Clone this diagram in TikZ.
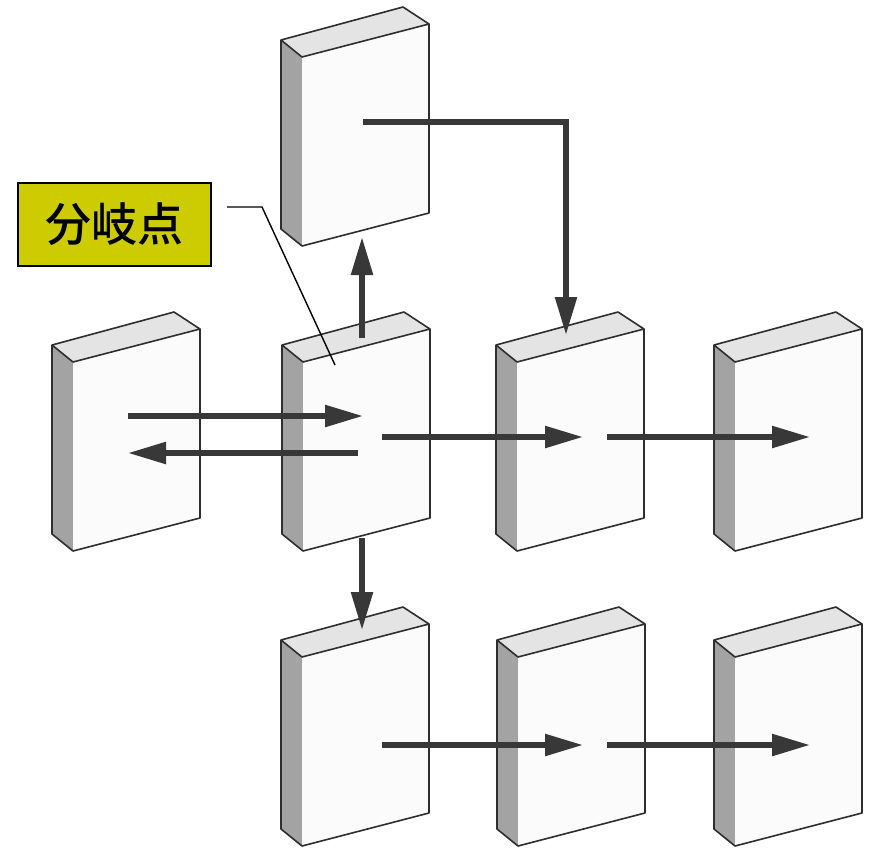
\documentclass[tikz,border=0pt]{standalone}
\usepackage{fontspec}
\newfontfamily\cjk{Noto Sans CJK JP}[BoldFont={Noto Sans CJK JP Medium}]
\usetikzlibrary{arrows.meta}

\definecolor{ink}{HTML}{383838}
\definecolor{edge}{HTML}{2E2E2E}
\definecolor{spinegray}{HTML}{A3A3A3}
\definecolor{topgray}{HTML}{E4E4E4}
\definecolor{facewhite}{HTML}{FBFBFB}
\definecolor{tagyellow}{HTML}{CCCC00}

\tikzset{
  % a standing volume: front face with its upper-left corner at the origin
  pics/volume/.style={code={
    \fill[spinegray] (0,0) -- (-21,-17) -- (-21,172) -- (0,189) -- cycle;
    \fill[topgray] (0,0) -- (-21,-17) -- (101,-50) -- (127,-33) -- cycle;
    \fill[facewhite] (0,0) -- (127,-33) -- (127,156) -- (0,189) -- cycle;
    \draw[bookedge] (0,189) -- (-21,172) -- (-21,-17) -- (101,-50) -- (127,-33)
      -- (127,156) -- (0,189) -- cycle (0,0) -- (127,-33) (0,0) -- (-21,-17);
  }},
  bookedge/.style={draw=edge, line width=1.6pt, line join=round},
  flow/.style={draw=ink, line width=5.5pt,
    -{Triangle[length=38pt,width=21pt]}},
  leader/.style={draw=black, line width=1.4pt},
  tag/.style={draw=black, line width=1.2pt, fill=tagyellow,
    minimum width=193pt, minimum height=83pt, inner sep=0pt,
    font=\cjk\bfseries\fontsize{46}{50}\selectfont}
}

\begin{document}
\begin{tikzpicture}[x=1pt, y=-1pt]
  \useasboundingbox (0,0) rectangle (869,847);
  \fill[white] (0,0) rectangle (869,847);

  % the volumes
  \pic (vTop) at (302,57)  {volume};
  \pic (vA)   at (73,362)  {volume};
  \pic (vB)   at (303,362) {volume};
  \pic (vC)   at (517,362) {volume};
  \pic (vD)   at (735,362) {volume};
  \pic (vE)   at (302,657) {volume};
  \pic (vF)   at (518,657) {volume};
  \pic (vG)   at (735,657) {volume};

  % ends of the flow arrows
  \coordinate (topOut)  at (363,122);
  \coordinate (topIn)   at (362,237);
  \coordinate (aOut)    at (128,416);
  \coordinate (aIn)     at (128,453);
  \coordinate (bIn)     at (363,416);
  \coordinate (bBack)   at (358,453);
  \coordinate (bRight)  at (382,437);
  \coordinate (bUp)     at (362,338);
  \coordinate (bDown)   at (362,538);
  \coordinate (cTop)    at (566,335);
  \coordinate (cIn)     at (583,437);
  \coordinate (cOut)    at (607,437);
  \coordinate (dIn)     at (810,437);
  \coordinate (eIn)     at (362,630);
  \coordinate (eOut)    at (382,745);
  \coordinate (fIn)     at (583,745);
  \coordinate (fOut)    at (607,745);
  \coordinate (gIn)     at (810,745);

  \draw[flow] (topOut) -| (cTop);
  \draw[flow] (bUp) -- (topIn);
  \draw[flow] (aOut) -- (bIn);
  \draw[flow] (bBack) -- (aIn);
  \draw[flow] (bRight) -- (cIn);
  \draw[flow] (cOut) -- (dIn);
  \draw[flow] (bDown) -- (eIn);
  \draw[flow] (eOut) -- (fIn);
  \draw[flow] (fOut) -- (gIn);

  % branch-point label and its leader
  \node[tag] (branch) at (114.5,224.5) {分岐点};
  \coordinate (leadStart) at (227,207);
  \coordinate (leadBend)  at (262,207);
  \coordinate (leadEnd)   at (335,365);
  \draw[leader] (leadStart) -- (leadBend) -- (leadEnd);
\end{tikzpicture}
\end{document}
